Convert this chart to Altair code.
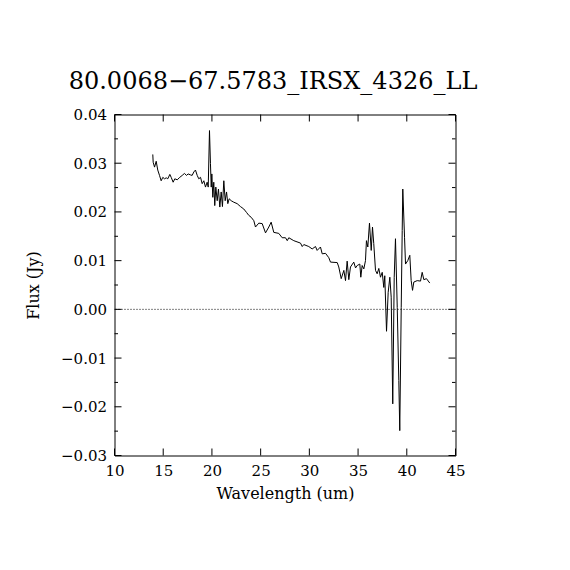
import altair as alt
import pandas as pd

wavelength = [13.93, 13.97, 14.11, 14.28, 14.44, 14.62, 14.79, 14.96, 15.13, 15.31,
              15.47, 15.68, 15.82, 16.02, 16.19, 16.44, 16.70, 16.95, 17.18, 17.39,
              17.56, 17.80, 17.97, 18.14, 18.31, 18.49, 18.65, 18.83, 19.00, 19.17,
              19.34, 19.51, 19.62, 19.75, 19.85, 19.93, 19.99, 20.09, 20.19, 20.29,
              20.40, 20.54, 20.67, 20.81, 20.95, 21.08, 21.22, 21.36, 21.50, 21.63,
              21.77, 21.98, 22.24, 22.59, 22.93, 23.27, 23.55, 23.78, 24.03, 24.30,
              24.47, 24.81, 25.16, 25.50, 25.84, 26.08, 26.35, 26.86, 27.21, 27.55,
              27.73, 27.89, 28.40, 29.09, 29.27, 29.43, 29.94, 30.29, 30.63, 30.80,
              31.14, 31.32, 31.66, 32.00, 32.17, 32.86, 33.02, 33.27, 33.54, 33.71,
              33.88, 34.05, 34.22, 34.56, 34.74, 34.91, 35.18, 35.28, 35.42, 35.59,
              35.76, 35.86, 36.00, 36.17, 36.35, 36.48, 36.61, 36.79, 36.96, 37.13,
              37.30, 37.48, 37.64, 37.74, 37.92, 38.09, 38.26, 38.40, 38.56, 38.71,
              38.84, 39.02, 39.18, 39.28, 39.43, 39.53, 39.59, 39.77, 39.87, 40.10,
              40.31, 40.45, 40.59, 40.72, 41.07, 41.41, 41.58, 41.75, 42.02, 42.36]

flux = [0.0318, 0.0302, 0.0292, 0.0304, 0.0286, 0.0275, 0.0264, 0.0271, 0.0268, 0.0270,
        0.0268, 0.0277, 0.0271, 0.0261, 0.0268, 0.0266, 0.0271, 0.0275, 0.0279, 0.0275,
        0.0278, 0.0276, 0.0275, 0.0282, 0.0286, 0.0275, 0.0268, 0.0271, 0.0258, 0.0264,
        0.0251, 0.0261, 0.0251, 0.0367, 0.0299, 0.0251, 0.0278, 0.0230, 0.0261, 0.0213,
        0.0251, 0.0223, 0.0247, 0.0210, 0.0241, 0.0211, 0.0264, 0.0223, 0.0241, 0.0217,
        0.0227, 0.0223, 0.0220, 0.0217, 0.0211, 0.0206, 0.0199, 0.0193, 0.0189, 0.0182,
        0.0169, 0.0177, 0.0176, 0.0157, 0.0169, 0.0179, 0.0158, 0.0156, 0.0147, 0.0147,
        0.0141, 0.0147, 0.0141, 0.0136, 0.0129, 0.0133, 0.0129, 0.0124, 0.0129, 0.0121,
        0.0128, 0.0114, 0.0115, 0.0106, 0.0097, 0.0096, 0.0087, 0.0063, 0.0080, 0.0059,
        0.0099, 0.0061, 0.0087, 0.0097, 0.0085, 0.0090, 0.0093, 0.0066, 0.0090, 0.0083,
        0.0100, 0.0141, 0.0128, 0.0177, 0.0121, 0.0169, 0.0135, 0.0080, 0.0073, 0.0084,
        0.0066, 0.0076, 0.0045, 0.0069, -0.0045, 0.0035, 0.0066, 0.0025, -0.0194, 0.0066,
        0.0145, 0.0004, -0.0146, -0.0249, 0.0004, 0.0162, 0.0247, 0.0148, 0.0093, 0.0100,
        0.0111, 0.0059, 0.0039, 0.0056, 0.0059, 0.0058, 0.0076, 0.0061, 0.0063, 0.0054]

x_ticks = [10, 15, 20, 25, 30, 35, 40, 45]
y_major = [-0.03, -0.02, -0.01, 0.0, 0.01, 0.02, 0.03, 0.04]
y_minor = [-0.025, -0.015, -0.005, 0.005, 0.015, 0.025, 0.035]

W, H = 341, 341
FONT = "DejaVu Serif"
MAJ, MIN = 7, 3.5

spec = pd.DataFrame({"wavelength": wavelength, "flux": flux})

xscale = alt.Scale(domain=[10, 45], nice=False, zero=False)
yscale = alt.Scale(domain=[-0.03, 0.04], nice=False, zero=False)

xaxis = alt.Axis(values=x_ticks, tickSize=0, domain=False, grid=False,
                 labelFont=FONT, labelFontSize=15, labelColor="black", labelPadding=8,
                 title="Wavelength (um)", titleFont=FONT, titleFontSize=16,
                 titleFontWeight="normal", titleColor="black", titlePadding=7,
                 labelFlush=False)
yaxis = alt.Axis(values=y_major, tickSize=0, domain=False, grid=False, format=".2f",
                 labelFont=FONT, labelFontSize=15, labelColor="black", labelPadding=8,
                 title="Flux (Jy)", titleFont=FONT, titleFontSize=16,
                 titleFontWeight="normal", titleColor="black", titlePadding=19,
                 labelFlush=False)

line = alt.Chart(spec).mark_line(color="black", strokeWidth=1).encode(
    x=alt.X("wavelength:Q", scale=xscale, axis=xaxis),
    y=alt.Y("flux:Q", scale=yscale, axis=yaxis),
    order="wavelength:Q",
)

zero = alt.Chart(pd.DataFrame({"z": [0.0]})).mark_rule(
    color="black", strokeWidth=1, strokeDash=[1, 2]
).encode(y=alt.Y("z:Q", scale=yscale))

xt = pd.DataFrame({"v": x_ticks})
ymj = pd.DataFrame({"v": y_major})
ymn = pd.DataFrame({"v": y_minor})

def xt_layer(y0, y1):
    return alt.Chart(xt).mark_rule(color="black", strokeWidth=1).encode(
        x=alt.X("v:Q", scale=xscale), y=alt.value(y0), y2=alt.value(y1))

def yt_layer(df, x0, x1):
    return alt.Chart(df).mark_rule(color="black", strokeWidth=1).encode(
        y=alt.Y("v:Q", scale=yscale), x=alt.value(x0), x2=alt.value(x1))

layers = [
    line, zero,
    xt_layer(H, H - MAJ), xt_layer(0, MAJ),
    yt_layer(ymj, 0, MAJ), yt_layer(ymj, W, W - MAJ),
    yt_layer(ymn, 0, MIN), yt_layer(ymn, W, W - MIN),
]

chart = alt.layer(*layers).properties(
    width=W, height=H,
    title=alt.TitleParams("80.0068\u221267.5783_IRSX_4326_LL", font=FONT, fontSize=24,
                          fontWeight="normal", color="black", offset=14, dx=-12),
    autosize=alt.AutoSizeParams(type="none"),
    padding={"left": 106.5, "top": 106.5, "right": 100, "bottom": 100},
).configure(background="white").configure_view(stroke="black", strokeWidth=1)

chart.save("out.html", embed_options={"renderer": "svg", "actions": False})
